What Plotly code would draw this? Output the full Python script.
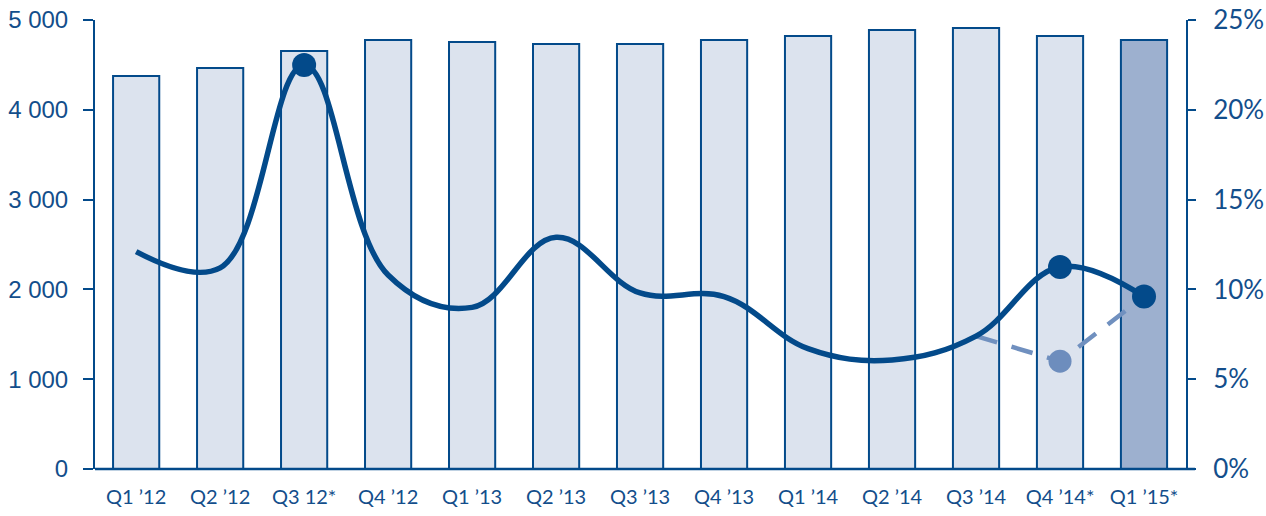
import plotly.graph_objects as go

categories = ["Q1 ’12", "Q2 ’12", "Q3 12*", "Q4 ’12", "Q1 ’13", "Q2 ’13", "Q3 ’13",
              "Q4 ’13", "Q1 ’14", "Q2 ’14", "Q3 ’14", "Q4 ’14*", "Q1 ’15*"]
bar_values = [4376, 4465, 4655, 4777, 4755, 4733, 4733, 4777, 4822, 4889, 4911, 4822, 4777]
rate_values = [12.1, 11.2, 22.5, 10.8, 9.0, 12.9, 9.8, 9.6, 6.7, 6.07, 7.4, 11.25, 9.6]
alt_rate_values = [7.4, 6.0, 9.6]          # dashed scenario for Q3'14 .. Q1'15
alt_idx = [10, 11, 12]
marker_idx = [2, 11, 12]
left_ticks = [0, 1000, 2000, 3000, 4000, 5000]
left_ticktext = ["0", "1 000", "2 000", "3 000", "4 000", "5 000"]
right_ticks = [0, 5, 10, 15, 20, 25]
right_ticktext = ["0%", "5%", "10%", "15%", "20%", "25%"]

DARK = "#034a8a"
TEXT = "#134e8b"
x = list(range(len(categories)))

bar_fill = ["#dce3ee"] * (len(categories) - 1) + ["#9db0cf"]

fig = go.Figure()
fig.add_trace(go.Bar(x=x, y=bar_values, width=0.55,
                     marker=dict(color=bar_fill, line=dict(color=DARK, width=2)),
                     showlegend=False))
fig.add_trace(go.Scatter(x=[x[i] for i in alt_idx], y=alt_rate_values, yaxis="y2",
                         mode="lines", line=dict(color="#7090bf", width=4.5, dash="22px,15px"),
                         showlegend=False))
fig.add_trace(go.Scatter(x=[x[alt_idx[1]]], y=[alt_rate_values[1]], yaxis="y2",
                         mode="markers", marker=dict(color="#6d8dbd", size=23),
                         showlegend=False))
fig.add_trace(go.Scatter(x=x, y=rate_values, yaxis="y2", mode="lines",
                         line=dict(color=DARK, width=5.5, shape="spline", smoothing=1.1),
                         showlegend=False))
fig.add_trace(go.Scatter(x=[x[i] for i in marker_idx], y=[rate_values[i] for i in marker_idx],
                         yaxis="y2", mode="markers", marker=dict(color=DARK, size=24),
                         showlegend=False))

fig.update_layout(
    width=1266, height=516,
    margin=dict(l=95, r=80, t=20, b=47, autoexpand=False),
    plot_bgcolor="white", paper_bgcolor="white",
    xaxis=dict(range=[-0.49, 12.5], tickvals=x, ticktext=categories, automargin=False,
               showgrid=False, zeroline=False, showline=False, ticks="",
               tickfont=dict(family="Lato", size=20, color=TEXT), ticklabelstandoff=14),
    yaxis=dict(range=[0, 5000], tickvals=left_ticks, ticktext=left_ticktext, automargin=False,
               showgrid=False, zeroline=False, showline=True, linecolor=DARK, linewidth=2,
               ticks="outside", ticklen=10, tickwidth=2, tickcolor=DARK,
               tickfont=dict(family="Liberation Sans", size=24, color=TEXT), ticklabelstandoff=10),
    yaxis2=dict(range=[0, 25], tickvals=right_ticks, ticktext=right_ticktext, overlaying="y",
                side="right", automargin=False,
                showgrid=False, zeroline=False, showline=True, linecolor=DARK, linewidth=2,
                ticks="outside", ticklen=8, tickwidth=2, tickcolor=DARK,
                tickfont=dict(family="Lato", size=26, color=TEXT), ticklabelstandoff=12),
    shapes=[dict(type="line", xref="paper", yref="paper", x0=0, x1=1.0083, y0=0, y1=0,
                 line=dict(color=DARK, width=2.5))],
)

fig.write_html("out.html")
